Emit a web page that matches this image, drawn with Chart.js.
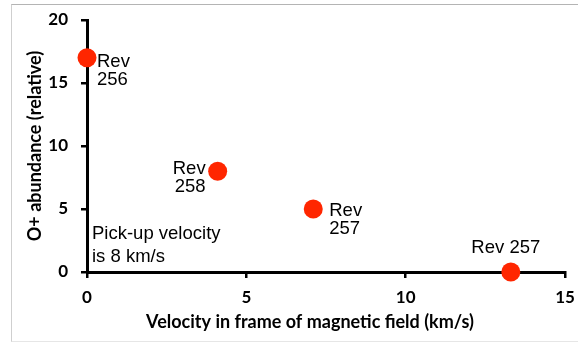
<!DOCTYPE html>
<html>
<head>
<meta charset="utf-8">
<script src="https://cdn.jsdelivr.net/npm/chart.js@4.4.1/dist/chart.umd.min.js"></script>
<style>
    body { margin: 0; background: #fff; }
    #wrap { position: relative; width: 578px; height: 345px; }
    #frame {
        position: absolute; left: 11px; top: 4px; width: 567px; height: 338px;
        border-top: 1px solid #b4b4b4; border-left: 1px solid #cfcfcf; border-bottom: 1px solid #e6e6e6;
        box-sizing: border-box; pointer-events: none;
    }
</style>
</head>
<body>
<div id="wrap">
    <div id="frame"></div>
    <canvas id="chart"></canvas>
</div>
<script>
// Data
    let velocity = [0, 4.1, 7.1, 13.3];
    let abundance = [17, 8, 5, 0];
    let pointNames = [['Rev', '256'], ['Rev', '258'], ['Rev', '257'], ['Rev 257']];
    let xTicks = [0, 5, 10, 15];
    let yTicks = [0, 5, 10, 15, 20];
    let noteLines = ['Pick-up velocity', 'is 8 km/s'];
    let xTitle = 'Velocity in frame of magnetic field (km/s)';

// where each label sits next to its dot
    let labelPlace = [
        { dx: 10, dy: 4, align: 'left' },
        { dx: -12, dy: -2, align: 'right' },
        { dx: 16, dy: 2, align: 'left' },
        { dx: -5, dy: -24, align: 'center' }
    ];

    const labelFont = '18.5px "Liberation Sans", Arial, sans-serif';

    const pointLabels = {
        id: 'pointLabels',
        afterDatasetsDraw(chart) {
            const ctx = chart.ctx;
            const meta = chart.getDatasetMeta(0);
            const xs = chart.scales.x, ys = chart.scales.y;
            ctx.save();
            ctx.fillStyle = '#000';
            ctx.font = labelFont;
            ctx.textBaseline = 'middle';
            meta.data.forEach((pt, i) => {
                let place = labelPlace[i];
                ctx.textAlign = place.align;
                pointNames[i].forEach((line, j) => {
                    ctx.fillText(line, pt.x + place.dx, pt.y + place.dy + j * 18);
                });
            });
            // note in the lower left corner
            ctx.textAlign = 'left';
            noteLines.forEach((line, j) => {
                ctx.fillText(line, xs.getPixelForValue(0) + 5, ys.getPixelForValue(3) + j * 23);
            });
            // x axis title sits a bit left of centre in the original
            ctx.font = 'bold 18px Lato';
            ctx.textAlign = 'center';
            ctx.fillText(xTitle, (xs.left + xs.right) / 2 - 16, xs.bottom - 23);
            ctx.restore();
        }
    };

    const tickFont = { family: 'Lato', size: 17, weight: 'bold' };
    const titleFont = { family: 'Lato', size: 18, weight: 'bold' };

    const data = {
        datasets: [{
            label: 'O+ abundance',
            data: velocity.map((v, i) => ({ x: v, y: abundance[i] })),
            backgroundColor: '#FF2600',
            borderColor: '#FF2600',
            pointRadius: 9.5,
            pointHoverRadius: 9.5,
            borderWidth: 0,
            showLine: false,
            clip: false
        }]
    };

    const config = {
        type: 'scatter',
        data,
        options: {
            responsive: true,
            maintainAspectRatio: false,
            animation: false,
            layout: { padding: { left: 0, right: 13, top: 20, bottom: 0 } },
            plugins: {
                legend: { display: false },
                tooltip: { enabled: false }
            },
            scales: {
                x: {
                    type: 'linear',
                    min: 0,
                    max: 15,
                    afterBuildTicks: s => { s.ticks = xTicks.map(v => ({ value: v })); },
                    afterFit: s => { s.height = 73; s.paddingRight = 0; s.paddingLeft = 0; },
                    ticks: { color: '#000', font: tickFont, padding: 9 },
                    grid: { drawOnChartArea: false, color: '#000', lineWidth: 2.5, tickLength: 6 },
                    border: { color: '#000', width: 3 },
                    title: { display: false }
                },
                y: {
                    type: 'linear',
                    min: 0,
                    max: 20,
                    afterBuildTicks: s => { s.ticks = yTicks.map(v => ({ value: v })); },
                    afterFit: s => { s.width = 87; s.paddingTop = 0; s.paddingBottom = 0; },
                    ticks: { color: '#000', font: tickFont, padding: 13 },
                    grid: { drawOnChartArea: false, color: '#000', lineWidth: 2.5, tickLength: 6 },
                    border: { color: '#000', width: 3 },
                    title: {
                        display: true,
                        text: 'O+ abundance (relative)',
                        color: '#000',
                        font: titleFont,
                        padding: { top: 24, bottom: 0 }
                    }
                }
            }
        },
        plugins: [pointLabels]
    };

    const myChart = new Chart(document.getElementById('chart'), config);
</script>
</body>
</html>
